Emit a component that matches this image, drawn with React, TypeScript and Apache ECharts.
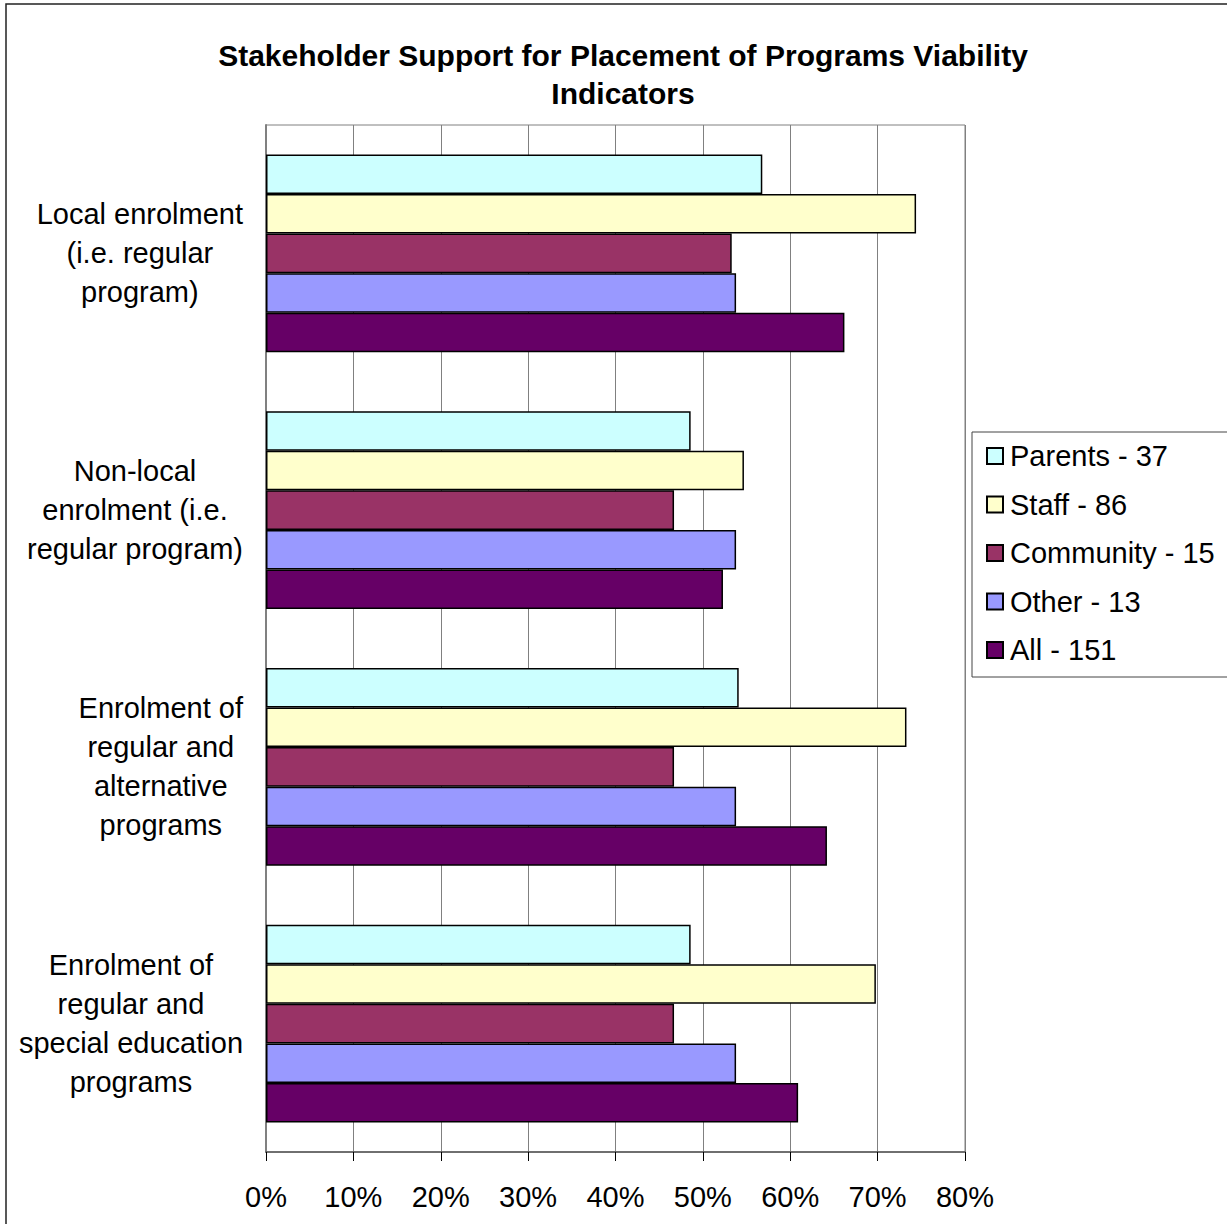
import { useEffect, useRef } from "react";
import * as echarts from "echarts";

const categories = [
  "Local enrolment\n(i.e. regular\nprogram)",
  "Non-local\nenrolment (i.e.\nregular program)",
  "Enrolment of\nregular and\nalternative\nprograms",
  "Enrolment of\nregular and\nspecial education\nprograms",
];
const seriesNames = ["Parents - 37", "Staff - 86", "Community - 15", "Other - 13", "All - 151"];
const parents = [56.8, 48.6, 54.1, 48.6];
const staff = [74.4, 54.7, 73.3, 69.8];
const community = [53.3, 46.7, 46.7, 46.7];
const other = [53.8, 53.8, 53.8, 53.8];
const all = [66.2, 52.3, 64.2, 60.9];
const seriesValues = [parents, staff, community, other, all];
const colors = ["#CCFFFF", "#FFFFCC", "#993366", "#9999FF", "#660066"];
const titleText = "Stakeholder Support for Placement of Programs Viability\nIndicators";
const xMin = 0;
const xMax = 80;
const xInterval = 10;

const FONT = "Arial, 'Liberation Sans', sans-serif";

export default function App() {
  const ref = useRef<HTMLDivElement>(null);
  useEffect(() => {
    if (!ref.current) return;
    const chart = echarts.init(ref.current, null, { renderer: "svg" });
    chart.setOption({
      animation: false,
      backgroundColor: "#fff",
      title: {
        text: titleText,
        left: 618,
        top: 31,
        textAlign: "center",
        textStyle: { fontFamily: FONT, fontSize: 30, fontWeight: "bold", color: "#000", lineHeight: 38 },
      },
      graphic: [
        {
          type: "rect",
          shape: { x: 6, y: 4, width: 1260, height: 1260 },
          style: { fill: "none", stroke: "#222", lineWidth: 1.5 },
          silent: true,
          z: 100,
        },
      ],
      legend: {
        orient: "vertical",
        left: 972,
        top: 432,
        itemWidth: 16,
        itemHeight: 16,
        itemGap: 19.5,
        padding: [9.5, 40, 12.5, 14],
        borderColor: "#444",
        borderWidth: 1,
        icon: "rect",
        textStyle: { fontFamily: FONT, fontSize: 29, color: "#000", padding: [0, 0, 0, 2] },
        data: seriesNames,
      },
      grid: {
        left: 266,
        top: 125,
        right: 262,
        bottom: 72,
        show: true,
        borderColor: "#808080",
        borderWidth: 1,
        backgroundColor: "#fff",
      },
      xAxis: {
        type: "value",
        min: xMin,
        max: xMax,
        interval: xInterval,
        axisLine: { show: true, lineStyle: { color: "#555", width: 1.5 } },
        axisTick: { show: true, length: 9, lineStyle: { color: "#000" } },
        splitLine: { show: true, lineStyle: { color: "#808080", width: 1 } },
        axisLabel: {
          formatter: "{value}%",
          fontFamily: FONT,
          fontSize: 29,
          color: "#000",
          margin: 30,
        },
      },
      yAxis: {
        type: "category",
        inverse: true,
        data: categories,
        axisLine: { show: true, lineStyle: { color: "#808080", width: 2 } },
        axisTick: { show: false },
        splitLine: { show: false },
        axisLabel: {
          margin: 23,
          formatter: (v: string) => v.split("\n").map((l) => `{c|${l}}`).join("\n"),
          rich: {
            c: { align: "center", fontFamily: FONT, fontSize: 29, lineHeight: 39, color: "#000" },
          },
        },
      },
      series: seriesNames.map((name, i) => ({
        name,
        type: "bar",
        data: seriesValues[i],
        barGap: "0%",
        barCategoryGap: "23%",
        itemStyle: { color: colors[i], borderColor: "#000", borderWidth: 1.5 },
      })),
    });
    return () => chart.dispose();
  }, []);
  return (
    <div
      ref={ref}
      style={{ position: "absolute", left: 0, top: 0, width: 1227, height: 1224 }}
    />
  );
}
